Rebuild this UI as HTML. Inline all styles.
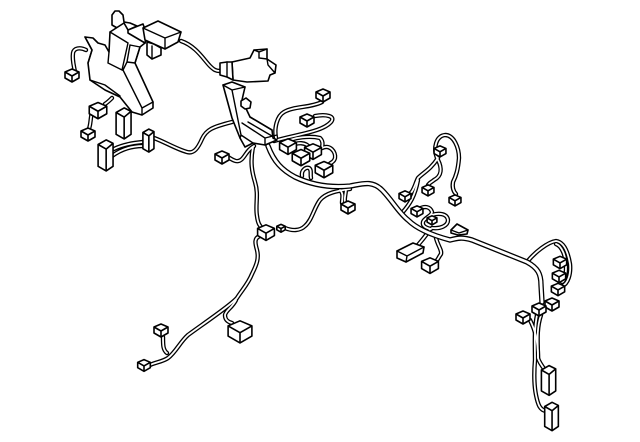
<!DOCTYPE html>
<html><head><meta charset="utf-8"><style>
html,body{margin:0;padding:0;background:#fff}
svg{display:block}
path{vector-effect:non-scaling-stroke}
.s{fill:#fff;stroke:#000;stroke-width:1.6;stroke-linejoin:round;stroke-linecap:round}
.l{fill:none;stroke:#000;stroke-width:1.4;stroke-linecap:round}
use.b,use.t{fill:#fff;stroke:#000;stroke-width:1.6;stroke-linejoin:round}
</style></head><body>
<svg width="640" height="442" viewBox="0 0 640 442" xmlns="http://www.w3.org/2000/svg">
<defs>
<path id="trunk" fill="none" stroke-linecap="round" stroke-linejoin="round" d="M268 146C274 162 282 170 295 177C312 185 330 188 350 186C362 184 372 180 382 190C392 200 398 212 408 220C418 230 435 236 450 240C458 238 462 237 472 240L527 262C538 268 541 274 541 285L542 302"/>
<g id="wires" fill="none" stroke-linecap="round" stroke-linejoin="round">
<path d="M114 149C122 145 132 143 143 142M112 156C120 150 130 146 143 146M154 138C165 142 176 149 187 152C194 154 198 148 202 139C206 130 212 127 232 122"/>
<path d="M181 41C196 46 204 60 210 66C214 70 216 71 220 71"/>
<path d="M75 72C74 66 72 60 73 53C74 48 80 47 86 50"/>
<path d="M92 112C90 120 91 126 88 131M105 104C108 102 110 100 112 98"/>
<path d="M228 157C234 161 238 163 242 159C246 155 247 150 254 146"/>
<path d="M253 147C250 162 252 172 255 182C259 195 255 205 257 216C258 224 260 226 262 228"/>
<path d="M260 236C254 238 255 243 257 250C259 258 257 264 252 274C248 284 242 290 237 298C230 306 200 326 188 335C180 342 176 352 168 358C162 362 156 362 150 365"/>
<path d="M236 300C232 308 226 310 225 315C225 320 228 322 232 323"/>
<path d="M163 337C163 345 163 350 167 353"/>
<path d="M285 228C292 231 300 231 305 226C312 220 314 208 320 200C326 193 336 191 350 189"/>
<path d="M340 190C344 194 342 198 342 203"/>
<path d="M346 188C346 194 344 198 345 203"/>
<path d="M276 138C274 128 277 116 284 112C294 106 310 108 322 102"/>
<path d="M274 141C298 134 322 132 331 122C336 116 326 114 315 116"/>
<path d="M282 144C294 136 312 136 320 138C324 142 322 146 322 148"/>
<path d="M322 148C330 144 336 152 335 158C334 163 330 162 328 166M290 146C298 142 306 142 310 148"/>
<path d="M302 176C301 170 306 167 309 168C312 170 310 174 311 178"/>
<path d="M437 158C433 148 436 136 445 135C454 135 459 148 459 158C458 170 456 176 453 182C452 188 454 192 456 194"/>
<path d="M438 158C430 170 424 172 418 178C414 186 414 194 404 197M438 160C442 168 442 176 434 180C432 182 430 182 428 185"/>
<path d="M402 213C410 204 415 196 418 180"/>
<path d="M419 209C424 206 430 206 432 212C432 216 424 218 423 222C422 226 426 228 431 229"/>
<path d="M432 215C438 213 447 213 448 220C448 226 440 229 432 228"/>
<path d="M430 229C426 236 422 240 418 245"/>
<path d="M436 238C438 246 442 250 441 254C438 258 438 260 436 261"/>
<path d="M527 262C535 252 548 242 556 241C564 242 568 252 570 264C571 274 568 284 562 286"/>
<path d="M556 244C562 246 566 256 566 268C566 276 564 282 562 282"/>
<path d="M537 315C534 330 535 345 535 360C534 372 534 385 536 395C538 405 540 410 546 411"/>
<path d="M530 320C535 330 538 340 538 358C539 362 542 366 545 370"/>
<path d="M541 315C536 330 538 345 538 358"/>
</g>
<g id="b"><path d="M-7-3L0-6 7-3 7 3 0 7-7 3Z"/><path fill="none" d="M-7-3L0 1 7-3M0 1L0 7"/></g>
<g id="t"><path d="M-6-10L1-14 7-11 7 9 1 13-6 9Z"/><path fill="none" d="M-6-10L1-6 7-11M1-6L1 13"/></g>
</defs>
<use href="#wires" stroke="#000" stroke-width="4.4"/>
<use href="#wires" stroke="#fff" stroke-width="1.8"/>
<use href="#trunk" stroke="#000" stroke-width="5.4"/>
<use href="#trunk" stroke="#fff" stroke-width="2.8"/>

<!-- left harness block -->
<path class="s" d="M112 15L115 11 119 11 123 15 124 22 130 23 137 26 124 32 112 25Z"/>
<path class="s" d="M85 37L93 38 98 43 105 45 109 52 110 32 124 23 128 30 145 43 140 47 135 63 153 102 153 108 142 115 132 112 120 97 105 90 90 80 88 63 92 50Z"/>
<path class="l" d="M85 37L92 50 88 63M109 52L108 63 122 70 128 43 110 32M130 45L127 62 123 70M140 47L135 63M130 45L140 47M127 62L135 63M123 70L142 108 153 102M142 108L142 115M90 80L105 85 120 96"/>
<path class="s" d="M128 30L143 24 147 35 145 43 128 33Z"/>
<path class="s" d="M147 42L147 55 152 59 161 55 161 48 154 44Z"/>
<path class="l" d="M152 46L152 59"/>
<path class="s" d="M143 28L158 21 181 32 178 42 165 49 145 40Z"/>
<path class="l" d="M143 28L165 38 181 32M165 38L165 49"/>

<!-- right upper connector -->
<path class="s" d="M232 62L250 58 254 50 267 49 267 59 276 65 275 73 270 75 268 81 247 82 233 80Z"/>
<path class="l" d="M254 50L259 52 267 49M259 52L259 58 267 59M267 59L268 65 275 73"/>
<path class="s" d="M220 63L227 62 232 62 233 80 227 77 220 75Z"/>
<path class="l" d="M227 62L227 77"/>

<!-- second block -->
<path class="s" d="M223 85L232 82 245 87 242 100 250 117 272 130 273 138 277 140 265 145 253 143 245 147 240 138 232 118Z"/>
<path class="l" d="M232 90L245 87M223 85L232 90 241 135 240 138M242 123L265 138 265 145M241 135L253 143M250 117L272 130M248 122L272 136M265 138L277 135"/>
<path class="s" d="M241 101L246 98 251 102 250 108 245 109 241 106Z"/>

<!-- connectors -->
<g>
<use class="b" href="#b" transform="translate(72 75)"/>
<use class="b" href="#b" transform="translate(98 110) scale(1.25)"/>
<use class="b" href="#b" transform="translate(88 134)"/>
<use class="t" href="#t" transform="translate(123 124) scale(1.15)"/>
<use class="t" href="#t" transform="translate(105 156) scale(1.15)"/>
<use class="t" href="#t" transform="translate(148 141) scale(.85)"/>
<use class="b" href="#b" transform="translate(222 157)"/>
<use class="b" href="#b" transform="translate(323 95)"/>
<use class="b" href="#b" transform="translate(307 120)"/>
<use class="b" href="#b" transform="translate(288 146) scale(1.2)"/>
<use class="b" href="#b" transform="translate(313 151) scale(1.2)"/>
<use class="b" href="#b" transform="translate(301 157) scale(1.25)"/>
<use class="b" href="#b" transform="translate(324 169) scale(1.25)"/>
<use class="b" href="#b" transform="translate(348 207)"/>
<use class="b" href="#b" transform="translate(266 232) scale(1.2)"/>
<use class="b" href="#b" transform="translate(281 228) scale(.6)"/>
<use class="b" href="#b" transform="translate(161 330)"/>
<use class="b" href="#b" transform="translate(144 365) scale(.9)"/>
<use class="b" href="#b" transform="translate(240 331) scale(1.7)"/>
<use class="b" href="#b" transform="translate(440 151) scale(.85)"/>
<use class="b" href="#b" transform="translate(428 190) scale(.85)"/>
<use class="b" href="#b" transform="translate(455 200) scale(.85)"/>
<use class="b" href="#b" transform="translate(405 196) scale(.85)"/>
<use class="b" href="#b" transform="translate(417 211) scale(.85)"/>
<use class="b" href="#b" transform="translate(432 220) scale(.7)"/>
<use class="b" href="#b" transform="translate(430 265) scale(1.2)"/>
<use class="b" href="#b" transform="translate(560 262) scale(.95)"/>
<use class="b" href="#b" transform="translate(559 276) scale(.95)"/>
<use class="b" href="#b" transform="translate(558 289) scale(.95)"/>
<use class="b" href="#b" transform="translate(552 304)"/>
<use class="b" href="#b" transform="translate(523 317)"/>
<use class="b" href="#b" transform="translate(539 309)"/>
<use class="t" href="#t" transform="translate(548 381) scale(1.1)"/>
<use class="t" href="#t" transform="translate(551 417) scale(1.05)"/>
</g>
<path class="s" d="M397 251L413 243 424 247 423 253 406 262 397 258Z"/>
<path class="l" d="M397 251L407 256 424 247M407 256L406 262"/>
<path class="s" d="M451 230L457 224 468 230 467 234 458 235 451 233Z"/>
<path class="l" d="M451 230L459 233 468 230"/>
</svg>
</body></html>
